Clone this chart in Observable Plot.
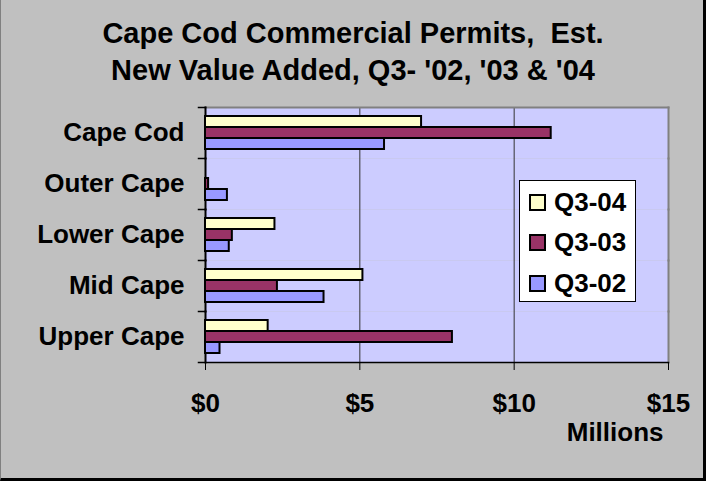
<!DOCTYPE html>
<html>
<head>
<meta charset="utf-8">
<script src="https://cdn.jsdelivr.net/npm/d3@7"></script>
<script src="https://cdn.jsdelivr.net/npm/@observablehq/plot@0.6"></script>
<style>
  html, body { margin: 0; padding: 0; background: #c0c0c0; }
  #chart { position: relative; width: 706px; height: 481px; background: #c0c0c0; overflow: hidden;
           font-family: "Liberation Sans", Arial, sans-serif; font-weight: bold; color: #000; }
  #title { height: 89px; box-sizing: border-box; padding-top: 15px; text-align: center;
           font-size: 29px; line-height: 37px; white-space: pre; }
  #legend { position: absolute; left: 519px; top: 180px; width: 115px; height: 120px;
            background: #fff; border: 1px solid #000; box-sizing: content-box; }
  .item { position: absolute; left: 9px; height: 30px; display: flex; align-items: center; font-size: 26px; }
  .sw { width: 13px; height: 13px; border: 2px solid #000; margin-right: 8px; }
  #border { position: absolute; inset: 0; pointer-events: none;
            border-left: 1px solid #808080; border-right: 3px solid #000; border-bottom: 3px solid #000; }
  svg { display: block; }
</style>
</head>
<body>
<div id="chart">
  <div id="title"></div>
  <div id="plot"></div>
  <div id="legend"></div>
  <div id="border"></div>
</div>
<script>
const titleLines = ["Cape Cod Commercial Permits,  Est.", "New Value Added, Q3- '02, '03 & '04"];
const categories = ["Cape Cod", "Outer Cape", "Lower Cape", "Mid Cape", "Upper Cape"];
const seriesNames = ["Q3-04", "Q3-03", "Q3-02"];
const seriesColors = ["#ffffcc", "#993366", "#9999ff"];
const q304 = [7.0, 0, 2.25, 5.1, 2.03];
const q303 = [11.2, 0.1, 0.87, 2.33, 8.0];
const q302 = [5.8, 0.71, 0.77, 3.84, 0.47];
const xTicks = [0, 5, 10, 15];
const xLabel = "Millions";

document.getElementById("title").textContent = titleLines.join("\n");

const seriesValues = [q304, q303, q302];
const data = [];
categories.forEach((c, i) => {
  seriesNames.forEach((s, j) => data.push({category: c, series: s, value: seriesValues[j][i]}));
});

const W = 706, H = 392, mL = 205, mR = 38, mT = 17, mB = 118;
const frameW = W - mL - mR;

const chart = Plot.plot({
  width: W, height: H,
  marginTop: mT, marginLeft: mL, marginRight: mR, marginBottom: mB,
  style: {background: "transparent", fontFamily: "'Liberation Sans', Arial, sans-serif", fontWeight: "bold", fontSize: "26px", color: "#000", overflow: "visible"},
  x: {domain: [0, 15]},
  fy: {domain: categories, padding: 0},
  y: {domain: seriesNames, paddingInner: 0, paddingOuter: 0.7, axis: null},
  color: {domain: seriesNames, range: seriesColors},
  marks: [
    Plot.frame({fill: "#ccccff", stroke: null}),
    Plot.ruleX(xTicks.slice(1, -1), {stroke: "#333", strokeWidth: 1}),
    Plot.frame({anchor: "right", stroke: "#808080", strokeWidth: 2}),
    Plot.frame({anchor: "top", stroke: "#808080", strokeWidth: 2, fy: () => categories[0]}),
    Plot.frame({anchor: "top", stroke: "#000", strokeWidth: 1.5, insetLeft: -7, insetRight: frameW}),
    Plot.frame({anchor: "left", stroke: "#000", strokeWidth: 2}),
    Plot.barX(data, {x: "value", y: "series", fy: "category", fill: "series", stroke: "#000", strokeWidth: 2}),
    Plot.frame({anchor: "bottom", stroke: "#000", strokeWidth: 1.5, insetLeft: -7, fy: () => categories[categories.length - 1]}),
    Plot.axisFy({anchor: "left", tickSize: 0, tickPadding: 21, label: null, fontSize: 26}),
    Plot.axisX({ticks: xTicks, tickFormat: d => "$" + d, tickSize: 8, tickPadding: 23, label: null, fontSize: 26, stroke: "#000"}),
    Plot.text([xLabel], {text: d => d, fy: () => categories[categories.length - 1], frameAnchor: "bottom-right", textAnchor: "end", dx: -5, dy: 78, fontSize: 26})
  ]
});
document.getElementById("plot").appendChild(chart);

const legend = document.getElementById("legend");
seriesNames.forEach((s, j) => {
  const item = document.createElement("div");
  item.className = "item";
  item.style.top = (6 + j * 40.5) + "px";
  const sw = document.createElement("div");
  sw.className = "sw";
  sw.style.background = seriesColors[j];
  item.appendChild(sw);
  item.appendChild(document.createTextNode(s));
  legend.appendChild(item);
});
</script>
</body>
</html>
